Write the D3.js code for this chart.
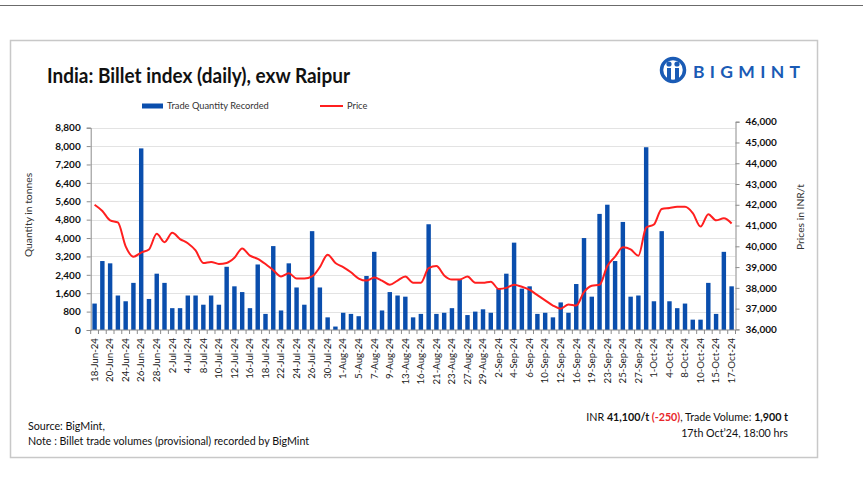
<!DOCTYPE html>
<html>
<head>
<meta charset="utf-8">
<script src="https://cdn.jsdelivr.net/npm/d3@7"></script>
<style>
  body { margin: 0; background: #fff; }
  svg { display: block; font-family: Lato, "Open Sans", sans-serif; }
</style>
</head>
<body>
<script>
const dates = [
  "18-Jun-24","19-Jun-24","20-Jun-24","21-Jun-24","24-Jun-24","25-Jun-24","26-Jun-24","27-Jun-24","28-Jun-24","1-Jul-24",
  "2-Jul-24","3-Jul-24","4-Jul-24","5-Jul-24","8-Jul-24","9-Jul-24","10-Jul-24","11-Jul-24","12-Jul-24","15-Jul-24",
  "16-Jul-24","17-Jul-24","18-Jul-24","19-Jul-24","22-Jul-24","23-Jul-24","24-Jul-24","25-Jul-24","26-Jul-24","29-Jul-24",
  "30-Jul-24","31-Jul-24","1-Aug-24","2-Aug-24","5-Aug-24","6-Aug-24","7-Aug-24","8-Aug-24","9-Aug-24","12-Aug-24",
  "13-Aug-24","14-Aug-24","16-Aug-24","20-Aug-24","21-Aug-24","22-Aug-24","23-Aug-24","26-Aug-24","27-Aug-24","28-Aug-24",
  "29-Aug-24","30-Aug-24","2-Sep-24","3-Sep-24","4-Sep-24","5-Sep-24","6-Sep-24","9-Sep-24","10-Sep-24","11-Sep-24",
  "12-Sep-24","13-Sep-24","16-Sep-24","18-Sep-24","19-Sep-24","20-Sep-24","23-Sep-24","24-Sep-24","25-Sep-24","26-Sep-24",
  "27-Sep-24","30-Sep-24","1-Oct-24","3-Oct-24","4-Oct-24","7-Oct-24","8-Oct-24","9-Oct-24","10-Oct-24","14-Oct-24",
  "15-Oct-24","16-Oct-24","17-Oct-24"
];

// trade quantity recorded, tonnes
const quantity = [
  1150,3000,2900,1500,1250,2050,7900,1350,2450,2050,
  950,950,1500,1500,1100,1500,1100,2750,1900,1650,
  950,2850,700,3650,850,2900,1850,1100,4300,1850,
  550,150,750,700,600,2350,3400,850,1650,1500,
  1450,550,700,4600,700,750,950,2200,650,800,
  900,750,1800,2450,3800,1800,1900,700,750,550,
  1200,750,2000,4000,1450,5050,5450,3000,4700,1450,
  1500,7950,1250,4300,1250,950,1150,450,450,2050,
  700,3400,1900
];

// price, INR/t
const price = [
  42000,41700,41250,41150,40000,39500,39700,39850,40600,40200,
  40650,40350,40150,39800,39200,39250,39150,39200,39450,39900,
  39550,39400,39150,38850,38550,38700,38450,38450,38550,39000,
  39600,39200,39000,38750,38450,38350,38500,38350,38150,38350,
  38550,38250,38250,38950,39050,38600,38400,38400,38550,38250,
  38250,38300,37950,38000,38150,38050,37900,37650,37400,37150,
  37000,37200,37150,37800,38100,38150,39050,39500,39950,39850,
  39550,40900,41050,41800,41850,41900,41900,41600,40950,41550,
  41250,41350,41100
];

const qtyTicks = d3.range(0, 8801, 800);
const priceTicks = d3.range(36000, 46001, 1000);

const W = 863, H = 483;
const svg = d3.select("body").append("svg").attr("width", W).attr("height", H);

// page decoration
svg.append("line").attr("x1", 0).attr("x2", W).attr("y1", 5.5).attr("y2", 5.5)
  .attr("stroke", "#6b6b6b").attr("stroke-width", 1.2);
svg.append("rect").attr("x", 10.5).attr("y", 40.5).attr("width", 807).attr("height", 417)
  .attr("fill", "none").attr("stroke", "#c8c8c8").attr("stroke-width", 1.5);

// title
svg.append("text").attr("x", 47).attr("y", 83)
  .attr("font-size", 20).attr("font-weight", "bold").attr("fill", "#111")
  .attr("textLength", 303).attr("lengthAdjust", "spacingAndGlyphs")
  .text("India: Billet index (daily), exw Raipur");

// logo
const logo = svg.append("g").attr("transform", "translate(673,70)");
logo.append("circle").attr("r", 11.5).attr("fill", "none").attr("stroke", "#1a5bb5").attr("stroke-width", 3.5);
logo.append("circle").attr("cx", -4).attr("cy", -6).attr("r", 2.6).attr("fill", "#1a5bb5");
logo.append("circle").attr("cx", 4).attr("cy", -6).attr("r", 2.6).attr("fill", "#1a5bb5");
logo.append("rect").attr("x", -6).attr("y", -2).attr("width", 4).attr("height", 13).attr("fill", "#1a5bb5");
logo.append("rect").attr("x", 2).attr("y", -2).attr("width", 4).attr("height", 13).attr("fill", "#1a5bb5");
svg.append("text").attr("x", 693).attr("y", 78)
  .attr("font-size", 17.5).attr("font-weight", "bold").attr("fill", "#1a5bb5")
  .attr("textLength", 107).attr("lengthAdjust", "spacing")
  .text("BIGMINT");

// legend
const legend = svg.append("g").attr("font-size", 9.3).attr("fill", "#333");
legend.append("rect").attr("x", 142).attr("y", 103.5).attr("width", 21).attr("height", 5).attr("fill", "#0a4ead");
legend.append("text").attr("x", 167).attr("y", 109).text("Trade Quantity Recorded");
legend.append("line").attr("x1", 320).attr("x2", 343).attr("y1", 106).attr("y2", 106)
  .attr("stroke", "#ff1f1f").attr("stroke-width", 2);
legend.append("text").attr("x", 347).attr("y", 109).text("Price");

// scales
const left = 90.7, right = 735.5, bottom = 330;
const x = d3.scaleBand().domain(dates).range([left, right]).paddingInner(0.43).paddingOuter(0.215);
const xb = d3.scaleBand().domain(dates).range([left, right]);
const yQ = d3.scaleLinear().domain([0, 8800]).range([bottom, 127.7]);
const yP = d3.scaleLinear().domain([36000, 46000]).range([329.4, 121.7]);

// gridlines
svg.append("g").selectAll("line").data(qtyTicks.slice(1)).join("line")
  .attr("x1", left).attr("x2", right)
  .attr("y1", d => Math.round(yQ(d)) + 0.5).attr("y2", d => Math.round(yQ(d)) + 0.5)
  .attr("stroke", "#e3e3e3").attr("stroke-width", 1);

// bars
svg.append("g").selectAll("rect").data(quantity).join("rect")
  .attr("x", (d, i) => x(dates[i]))
  .attr("width", x.bandwidth())
  .attr("y", d => yQ(d))
  .attr("height", d => bottom - yQ(d))
  .attr("fill", "#0a4ead");

// price line
const line = d3.line()
  .x((d, i) => xb(dates[i]) + xb.bandwidth() / 2)
  .y(d => yP(d))
  .curve(d3.curveMonotoneX);
svg.append("path").datum(price)
  .attr("d", line)
  .attr("fill", "none").attr("stroke", "#ff1f1f").attr("stroke-width", 2)
  .attr("stroke-linejoin", "round");

// left axis
const gL = svg.append("g").attr("transform", `translate(${left},0)`)
  .call(d3.axisLeft(yQ).tickValues(qtyTicks).tickFormat(d3.format(",")).tickSizeOuter(0).tickSize(4).tickPadding(6));
gL.select(".domain").attr("stroke", "#8c8c8c");
gL.selectAll(".tick line").attr("stroke", "#8c8c8c");
gL.selectAll("text").attr("font-size", 10).attr("fill", "#111").attr("font-weight", "bold")
  .attr("font-family", "Lato, sans-serif");

// right axis
const gR = svg.append("g").attr("transform", `translate(${right},0)`)
  .call(d3.axisRight(yP).tickValues(priceTicks).tickFormat(d3.format(",")).tickSizeOuter(0).tickSize(4).tickPadding(6));
gR.select(".domain").attr("stroke", "#8c8c8c");
gR.selectAll(".tick line").attr("stroke", "#8c8c8c");
gR.selectAll("text").attr("font-size", 10).attr("fill", "#111").attr("font-weight", "bold")
  .attr("font-family", "Lato, sans-serif");

// bottom axis
const gB = svg.append("g").attr("transform", `translate(0,${bottom})`);
gB.append("line").attr("x1", left).attr("x2", right).attr("stroke", "#8c8c8c");
gB.selectAll(".tk").data(d3.range(dates.length + 1)).join("line").attr("class", "tk")
  .attr("x1", i => left + i * xb.step()).attr("x2", i => left + i * xb.step())
  .attr("y1", 0).attr("y2", 4).attr("stroke", "#8c8c8c");
gB.selectAll("text").data(dates.filter((d, i) => i % 2 === 0)).join("text")
  .attr("transform", d => `translate(${xb(d) + xb.bandwidth() / 2 + 3.3},${8}) rotate(-90)`)
  .attr("text-anchor", "end")
  .attr("font-size", 9.7).attr("fill", "#222")
  .text(d => d);

// axis titles
svg.append("text").attr("transform", "translate(32,215) rotate(-90)")
  .attr("text-anchor", "middle").attr("font-size", 10.3).attr("fill", "#333")
  .text("Quantity in tonnes");
svg.append("text").attr("transform", "translate(804,217) rotate(-90)")
  .attr("text-anchor", "middle").attr("font-size", 10.3).attr("fill", "#333")
  .text("Prices in INR/t");

// footer
const foot = svg.append("g").attr("font-size", 10.7).attr("fill", "#111");
foot.append("text").attr("x", 28).attr("y", 430).text("Source: BigMint,");
foot.append("text").attr("x", 28).attr("y", 445).text("Note : Billet trade volumes (provisional) recorded by BigMint");
const t1 = foot.append("text").attr("x", 788).attr("y", 421).attr("text-anchor", "end");
t1.append("tspan").text("INR ");
t1.append("tspan").attr("font-weight", "bold").text("41,100/t ");
t1.append("tspan").attr("font-weight", "bold").attr("fill", "#e8262b").text("(-250)");
t1.append("tspan").text(", Trade Volume: ");
t1.append("tspan").attr("font-weight", "bold").text("1,900 t");
foot.append("text").attr("x", 788).attr("y", 437).attr("text-anchor", "end").text("17th Oct\u201924, 18:00 hrs");
</script>
</body>
</html>
